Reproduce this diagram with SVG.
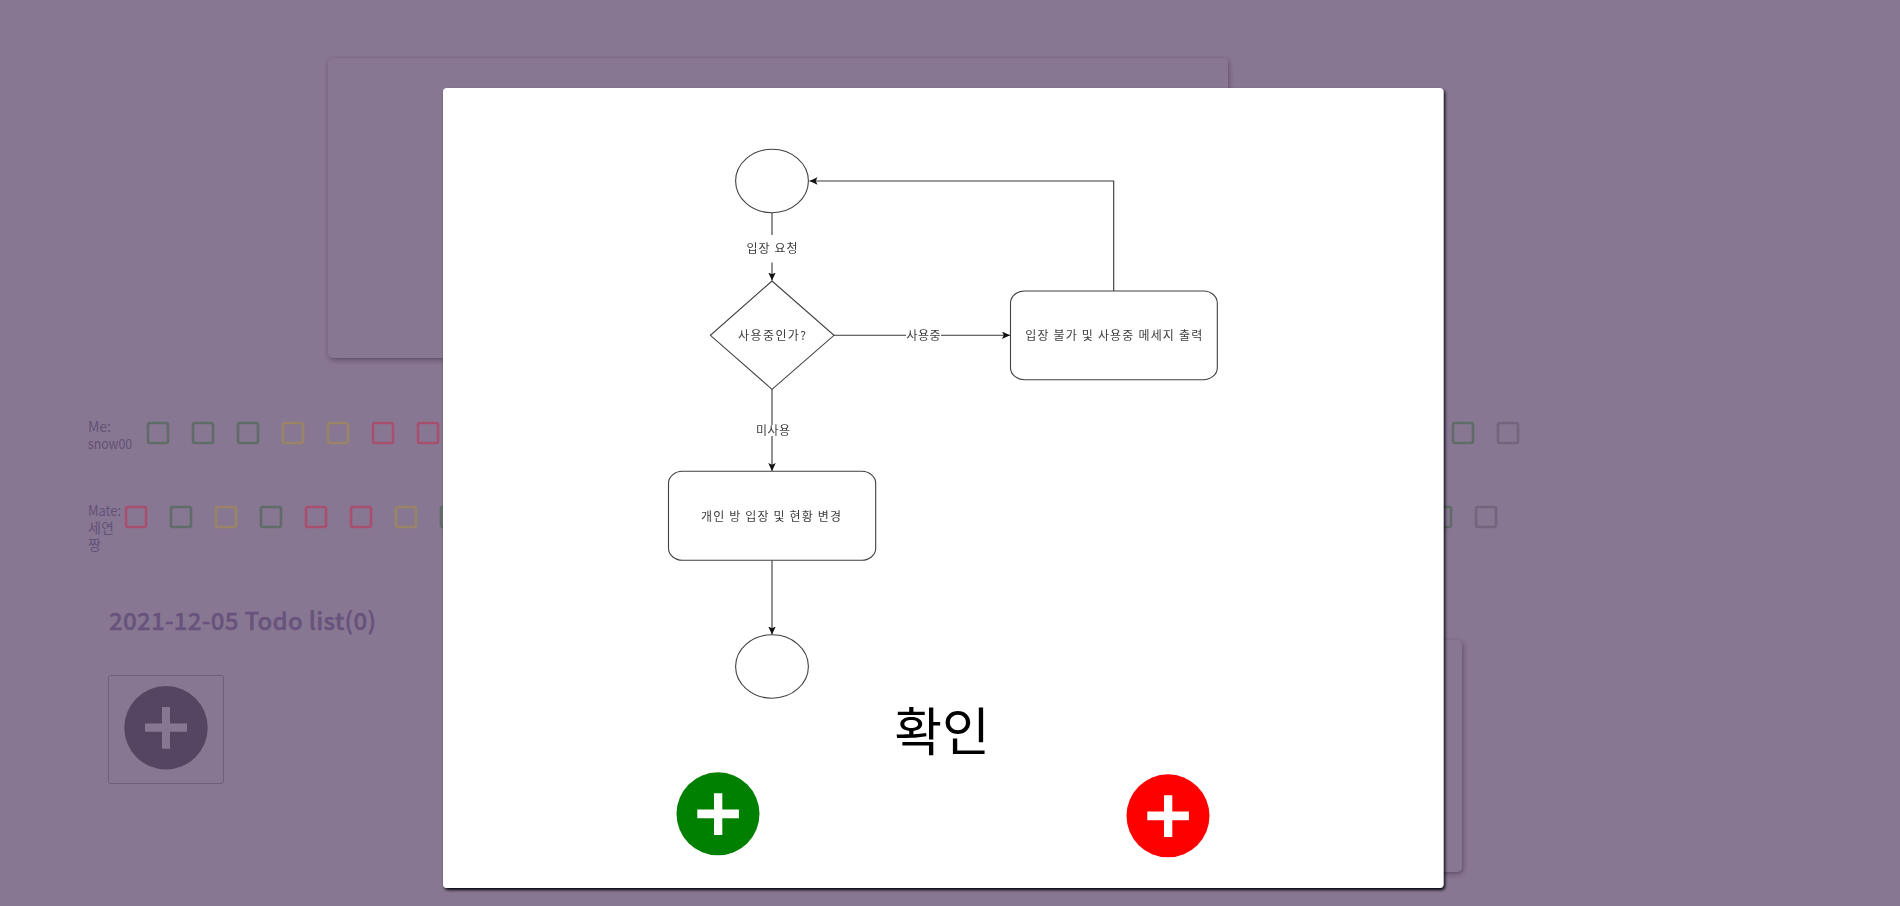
<svg xmlns="http://www.w3.org/2000/svg" width="1900" height="906" viewBox="0 0 1900 906">
<style>
text{font-family:"Noto Sans CJK KR","Noto Sans",sans-serif}
.page{fill:#887792}
.card{fill:#887792;filter:url(#cardShadow)}
.sq{fill:none;stroke-width:2.6}
.g{stroke:#5f6c68}.t{stroke:#9a8468}.r{stroke:#a84f6f}.n{stroke:#75647e}
.side{font-size:14px;fill:#625278}
.shape{fill:#fff;stroke:#404040;stroke-width:1.1}
.edge{fill:none;stroke:#383838;stroke-width:1.1}
.lab{font-size:12px;fill:#3c3c3c;text-anchor:middle;dominant-baseline:central;filter:url(#soft)}
.bg{fill:#fff}
.plus{fill:#fff}
</style>
<defs>
<filter id="cardShadow" x="-5%" y="-5%" width="110%" height="110%"><feDropShadow dx="1" dy="2" stdDeviation="2.5" flood-color="#3a2a48" flood-opacity=".55"/></filter>
<filter id="modalShadow" x="-3%" y="-3%" width="106%" height="106%"><feDropShadow dx="1.5" dy="2" stdDeviation="1.8" flood-color="#050308" flood-opacity="1"/></filter>
<filter id="soft" x="-5%" y="-20%" width="110%" height="140%"><feGaussianBlur stdDeviation="0.4"/></filter>
<marker id="arrow" markerUnits="userSpaceOnUse" markerWidth="9" markerHeight="8" refX="8" refY="3.75" orient="auto"><path d="M0 0L8 3.75L0 7.5L1.8 3.75Z" fill="#111"/></marker>
</defs>
<rect class="page" width="1900" height="906"/>
<g id="background-cards">
<rect class="card" x="328" y="58" width="900" height="300" rx="5"/>
<rect class="card" x="1300" y="640" width="162" height="232" rx="5"/>
</g>
<g id="me-row">
<text class="side" x="88" y="432">Me:</text><text class="side" x="88" y="449" textLength="44" lengthAdjust="spacingAndGlyphs">snow00</text>
<g id="me-squares">
<rect class="sq g" x="148" y="423" width="20" height="20" rx="2"/>
<rect class="sq g" x="193" y="423" width="20" height="20" rx="2"/>
<rect class="sq g" x="238" y="423" width="20" height="20" rx="2"/>
<rect class="sq t" x="283" y="423" width="20" height="20" rx="2"/>
<rect class="sq t" x="328" y="423" width="20" height="20" rx="2"/>
<rect class="sq r" x="373" y="423" width="20" height="20" rx="2"/>
<rect class="sq r" x="418" y="423" width="20" height="20" rx="2"/>
<rect class="sq g" x="1453" y="423" width="20" height="20" rx="2"/>
<rect class="sq n" x="1498" y="423" width="20" height="20" rx="2"/>
</g>
</g>
<g id="mate-row">
<text class="side" x="88" y="516" textLength="33" lengthAdjust="spacingAndGlyphs">Mate:</text><text class="side" x="88" y="533">세연</text><text class="side" x="88" y="550">짱</text>
<g id="mate-squares">
<rect class="sq r" x="126" y="507" width="20" height="20" rx="2"/>
<rect class="sq g" x="171" y="507" width="20" height="20" rx="2"/>
<rect class="sq t" x="216" y="507" width="20" height="20" rx="2"/>
<rect class="sq g" x="261" y="507" width="20" height="20" rx="2"/>
<rect class="sq r" x="306" y="507" width="20" height="20" rx="2"/>
<rect class="sq r" x="351" y="507" width="20" height="20" rx="2"/>
<rect class="sq t" x="396" y="507" width="20" height="20" rx="2"/>
<rect class="sq g" x="441" y="507" width="20" height="20" rx="2"/>
<rect class="sq g" x="1431" y="507" width="20" height="20" rx="2"/>
<rect class="sq n" x="1476" y="507" width="20" height="20" rx="2"/>
</g>
</g>
<g id="todo">
<text x="109" y="629.5" font-size="24" font-weight="500" fill="#67537c" stroke="#67537c" stroke-width=".4" textLength="267" lengthAdjust="spacing">2021-12-05 Todo list(0)</text>
<rect x="108.500" y="675.500" width="115" height="108" rx="2" fill="none" stroke="#6f5f7e"/>
<ellipse cx="166" cy="727.700" rx="41.700" ry="41.700" fill="#564463"/>
<path d="M145 723.500H162V707H170V723.500H187V731.800H170V748.700H162V731.800H145Z" fill="#887792"/>
</g>
<g id="modal">
<rect x="443" y="88" width="1000.500" height="800" rx="4" fill="#fff" filter="url(#modalShadow)"/>
</g>
<g id="connectors">
<path class="edge" d="M772 212.700V280.500" marker-end="url(#arrow)"/>
<path class="edge" d="M834 335.300H1010" marker-end="url(#arrow)"/>
<path class="edge" d="M772 389.300V471" marker-end="url(#arrow)"/>
<path class="edge" d="M1113.700 291V181H809.500" marker-end="url(#arrow)"/>
<path class="edge" d="M772 560.300V634.500" marker-end="url(#arrow)"/>
</g>
<g id="edge-labels">
<rect class="bg" x="745" y="235" width="54" height="27.500"/>
<text class="lab" x="772" y="247.500" textLength="51">입장 요청</text>
<rect class="bg" x="906" y="329" width="35" height="13"/>
<text class="lab" x="923.500" y="334" textLength="34">사용중</text>
<rect class="bg" x="756" y="425" width="35" height="11"/>
<text class="lab" x="773" y="429.500" textLength="34">미사용</text>
</g>
<g id="start"><ellipse class="shape" cx="772" cy="181" rx="36.400" ry="31.700"/></g>
<g id="decision"><polygon class="shape" points="772,281 834,335.300 772,389.300 710.400,335.300"/><text class="lab" x="772" y="334" textLength="68">사용중인가?</text></g>
<g id="busy"><rect class="shape" x="1010.500" y="291" width="206.800" height="88.700" rx="14" ry="12"/><text class="lab" x="1113.700" y="334" textLength="177">입장 불가 및 사용중 메세지 출력</text></g>
<g id="enter"><rect class="shape" x="668.500" y="471.300" width="207.200" height="89" rx="14" ry="12"/><text class="lab" x="771" y="515.500" textLength="140">개인 방 입장 및 현황 변경</text></g>
<g id="end"><ellipse class="shape" cx="772" cy="666.500" rx="36.400" ry="31.700"/></g>
<g id="confirm"><text x="942" y="751" font-size="52" text-anchor="middle" fill="#000">확인</text></g>
<g id="ok-button">
<circle cx="718" cy="813.800" r="41.500" fill="#008000"/>
<path class="plus" d="M697.300 809.600H714V793.300H722.300V809.600H738.900V818.300H722.300V835H714V818.300H697.300Z"/>
</g>
<g id="cancel-button">
<circle cx="1168" cy="815.800" r="41.500" fill="#f00"/>
<path class="plus" d="M1147.300 811.600H1164V795.300H1172.300V811.600H1188.900V820.300H1172.300V837H1164V820.300H1147.300Z"/>
</g>
</svg>
